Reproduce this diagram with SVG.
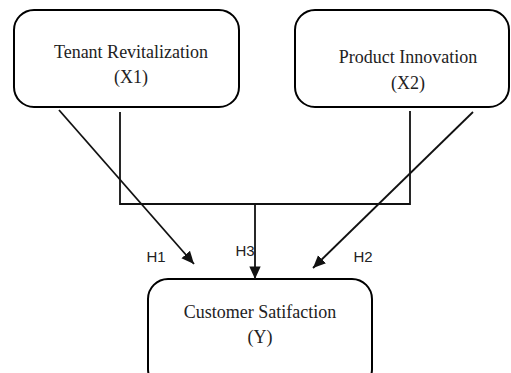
<svg xmlns="http://www.w3.org/2000/svg" width="511" height="373" viewBox="0 0 511 373">
<style>
.box{fill:#fff;stroke:#000;stroke-width:2}
.t{font-family:"Liberation Serif",serif;font-size:18px;fill:#222;text-anchor:middle}
.l{font-family:"Liberation Sans",sans-serif;font-size:15px;fill:#222;text-anchor:middle}
.c{fill:none;stroke:#111;stroke-width:1.8}
</style>
<defs>
<marker id="ah" viewBox="0 0 10 10" refX="10" refY="5" markerWidth="7" markerHeight="7" orient="auto" markerUnits="strokeWidth">
<path d="M0,0.5 L10,5 L0,9.5 z" fill="#111"/>
</marker>
</defs>
<g id="x1">
<rect class="box" x="14" y="10" width="225" height="97" rx="20"/>
<text class="t" x="131" y="58">Tenant Revitalization</text>
<text class="t" x="131" y="83">(X1)</text>
</g>
<g id="x2">
<rect class="box" x="295" y="10" width="214" height="97" rx="20"/>
<text class="t" x="408" y="63">Product Innovation</text>
<text class="t" x="408" y="89">(X2)</text>
</g>
<g id="y">
<rect class="box" x="148" y="279" width="224" height="110" rx="20"/>
<text class="t" x="260" y="318">Customer Satifaction</text>
<text class="t" x="260" y="343">(Y)</text>
</g>
<g id="connectors">
<line class="c" x1="59" y1="110" x2="194" y2="264" marker-end="url(#ah)"/>
<line class="c" x1="473" y1="112" x2="313" y2="268" marker-end="url(#ah)"/>
<polyline class="c" points="120,112 120,204 410,204 410,111"/>
<line class="c" x1="255" y1="204" x2="255" y2="279" marker-end="url(#ah)"/>
<text class="l" x="156" y="262">H1</text>
<text class="l" x="245" y="256">H3</text>
<text class="l" x="363" y="262">H2</text>
</g>
</svg>
